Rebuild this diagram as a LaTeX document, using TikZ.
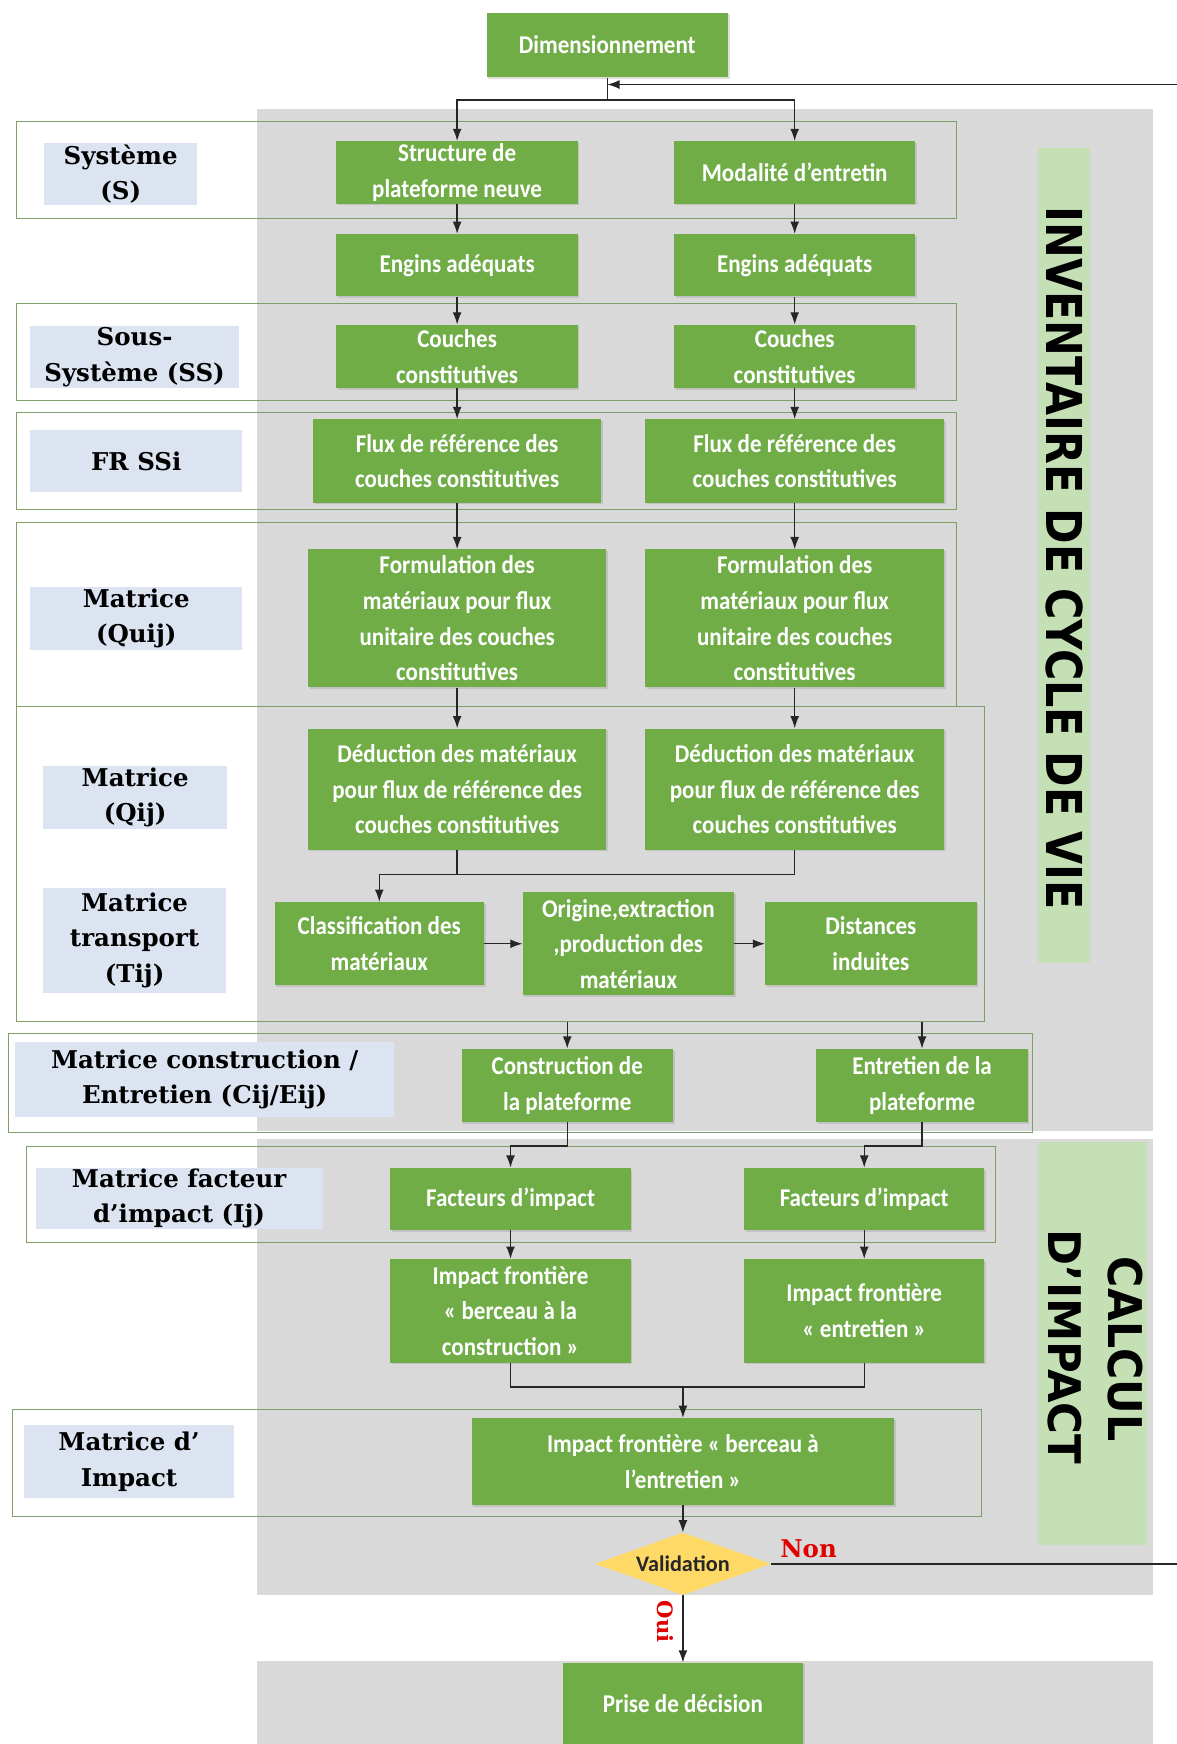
\documentclass[tikz,border=0pt]{standalone}
\usepackage{fontspec}
\usepackage{graphicx}
\usetikzlibrary{arrows.meta,shapes.geometric,shadows}
\newfontfamily\boxfont[FakeStretch=0.9]{Carlito}
\newfontfamily\valfont{Carlito}
\newfontfamily\labfont{DejaVu Serif}
\newfontfamily\titfont{DejaVu Sans}
\definecolor{gr}{HTML}{70AD47}
\definecolor{gy}{HTML}{D9D9D9}
\definecolor{lb}{HTML}{DCE3F1}
\definecolor{lg}{HTML}{C5E0B4}
\definecolor{fc}{HTML}{7F9F6A}
\definecolor{dy}{HTML}{FFD966}
\definecolor{rd}{HTML}{E00000}
\begin{document}
\begin{tikzpicture}[x=1pt,y=-1pt,
  gbox/.style={fill=gr, text=white, font=\boxfont\bfseries\fontsize{23}{32}\selectfont, align=center, inner sep=0pt,
    drop shadow={shadow xshift=1.5pt,shadow yshift=-1.5pt,opacity=.25}},
  lab/.style={fill=lb, font=\labfont\bfseries\fontsize{22}{32}\selectfont, align=center, inner sep=0pt},
  frm/.style={draw=fc, line width=0.9pt, inner sep=0pt},
  ln/.style={draw=black!85, line width=1.2pt},
  arr/.style={ln, -{Latex[length=11pt,width=8pt]}}]
\useasboundingbox (0,0) rectangle (1058,1568);
% gray backgrounds
\fill[gy] (231,98) rectangle (1037,1017);
\fill[gy] (231,1024) rectangle (1037,1434);
\fill[gy] (231,1493) rectangle (1037,1568);
% light green bars
\fill[lg] (933,133) rectangle (980,866);
\fill[lg] (933,1027) rectangle (1031,1389);
\node[rotate=-90, inner sep=0pt] (tinv) at (957.5,502) {\resizebox{632pt}{33pt}{\titfont\bfseries INVENTAIRE DE CYCLE DE VIE}};
\node[rotate=-90, inner sep=0pt] (tcal) at (1011.5,1213) {\resizebox{166pt}{31pt}{\titfont\bfseries CALCUL}};
\node[rotate=-90, inner sep=0pt] (timp) at (957,1211) {\resizebox{211pt}{30pt}{\titfont\bfseries D’IMPACT}};
% frames
\node[frm, minimum width=845pt, minimum height=87pt] (fS) at (437.5,152.5) {};
\node[frm, minimum width=845pt, minimum height=87pt] (fSS) at (437.5,316.5) {};
\node[frm, minimum width=845pt, minimum height=87pt] (fFR) at (437.5,414.5) {};
\node[frm, minimum width=845pt, minimum height=165pt] (fQ) at (437.5,552.5) {};
\node[frm, minimum width=870pt, minimum height=283pt] (fB) at (450,776.5) {};
\node[frm, minimum width=920pt, minimum height=89pt] (fC) at (468,973.5) {};
\node[frm, minimum width=871pt, minimum height=86pt] (fI) at (459.5,1074) {};
\node[frm, minimum width=871pt, minimum height=96pt] (fM) at (446.5,1315) {};
% labels
\node[lab, minimum width=137pt, minimum height=55pt] (lS) at (108.5,156.5) {Système\\(S)};
\node[lab, minimum width=188pt, minimum height=56pt] (lSS) at (121,321) {Sous-\\Système (SS)};
\node[lab, minimum width=191pt, minimum height=55pt] (lFR) at (122.5,414.5) {FR SSi};
\node[lab, minimum width=191pt, minimum height=56pt] (lQu) at (122.5,556) {Matrice\\(Quij)};
\node[lab, minimum width=165pt, minimum height=56pt] (lQ) at (121.5,717) {Matrice\\(Qij)};
\node[lab, minimum width=164pt, minimum height=95pt] (lT) at (121,845.5) {Matrice\\transport\\(Tij)};
\node[lab, minimum width=341pt, minimum height=67pt] (lC) at (184,970.5) {Matrice construction /\\Entretien (Cij/Eij)};
\node[lab, minimum width=258pt, minimum height=55pt] (lI) at (161,1077.5) {Matrice facteur\\d’impact (Ij)};
\node[lab, minimum width=189pt, minimum height=66pt] (lM) at (116,1314) {Matrice d’\\Impact};
% green boxes
\node[gbox, minimum width=217pt, minimum height=58pt] (dim) at (546,40.5) {Dimensionnement};
\node[gbox, minimum width=217pt, minimum height=56pt] (s1) at (411,155) {Structure de\\plateforme neuve};
\node[gbox, minimum width=217pt, minimum height=56pt] (s2) at (714.5,155) {Modalité d’entretin};
\node[gbox, minimum width=217pt, minimum height=56pt] (e1) at (411,238.5) {Engins adéquats};
\node[gbox, minimum width=217pt, minimum height=56pt] (e2) at (714.5,238.5) {Engins adéquats};
\node[gbox, minimum width=217pt, minimum height=57pt] (c1) at (411,320.5) {Couches\\constitutives};
\node[gbox, minimum width=217pt, minimum height=57pt] (c2) at (714.5,320.5) {Couches\\constitutives};
\node[gbox, minimum width=259pt, minimum height=75pt] (f1) at (411,414.5) {Flux de référence des\\couches constitutives};
\node[gbox, minimum width=269pt, minimum height=75pt] (f2) at (714.5,414.5) {Flux de référence des\\couches constitutives};
\node[gbox, minimum width=268pt, minimum height=124pt] (fo1) at (411,556) {Formulation des\\matériaux pour flux\\unitaire des couches\\constitutives};
\node[gbox, minimum width=269pt, minimum height=124pt] (fo2) at (714.5,556) {Formulation des\\matériaux pour flux\\unitaire des couches\\constitutives};
\node[gbox, minimum width=268pt, minimum height=109pt] (d1) at (411,709.5) {Déduction des matériaux\\pour flux de référence des\\couches constitutives};
\node[gbox, minimum width=269pt, minimum height=109pt] (d2) at (714.5,709.5) {Déduction des matériaux\\pour flux de référence des\\couches constitutives};
\node[gbox, minimum width=188pt, minimum height=75pt] (cl) at (341,848.5) {Classification des\\matériaux};
\node[gbox, minimum width=190pt, minimum height=93pt] (og) at (565,848.5) {Origine,extraction\\,production des\\matériaux};
\node[gbox, minimum width=190pt, minimum height=75pt] (di) at (783,848.5) {Distances\\induites};
\node[gbox, minimum width=190pt, minimum height=66pt] (co) at (510,976) {Construction de\\la plateforme};
\node[gbox, minimum width=190pt, minimum height=66pt] (en) at (829,976) {Entretien de la\\plateforme};
\node[gbox, minimum width=216pt, minimum height=56pt] (fa1) at (459,1078) {Facteurs d’impact};
\node[gbox, minimum width=216pt, minimum height=56pt] (fa2) at (777,1078) {Facteurs d’impact};
\node[gbox, minimum width=216pt, minimum height=93pt] (if1) at (459,1178.5) {Impact frontière\\« berceau à la\\construction »};
\node[gbox, minimum width=216pt, minimum height=93pt] (if2) at (777,1178.5) {Impact frontière\\« entretien »};
\node[gbox, minimum width=380pt, minimum height=78pt] (ib) at (614,1314) {Impact frontière « berceau à\\l’entretien »};
\node[diamond, aspect=2.82, fill=dy, inner sep=0pt, minimum width=158pt, minimum height=56pt,
  font=\valfont\bfseries\fontsize{20}{24}\selectfont, text=black!85] (val) at (614,1406) {Validation};
\node[gbox, minimum width=216pt, minimum height=73pt] (pd) at (614,1531.5) {Prise de décision};
% connectors
\coordinate (sp) at (546,90);
\coordinate (fbT) at (546,76);
\coordinate (fbR) at (1058,76);
\draw[ln] (dim.south) -- (sp);
\draw[arr] (sp) -| (s1.north);
\draw[arr] (sp) -| (s2.north);
\draw[arr] (fbR) -- (fbT);
\draw[arr] (s1.south) -- (e1.north);
\draw[arr] (s2.south) -- (e2.north);
\draw[arr] (e1.south) -- (c1.north);
\draw[arr] (e2.south) -- (c2.north);
\draw[arr] (c1.south) -- (f1.north);
\draw[arr] (c2.south) -- (f2.north);
\draw[arr] (f1.south) -- (fo1.north);
\draw[arr] (f2.south) -- (fo2.north);
\draw[arr] (fo1.south) -- (d1.north);
\draw[arr] (fo2.south) -- (d2.north);
\coordinate (mq) at (341,786);
\draw[ln] (d1.south) |- (mq);
\draw[ln] (d2.south) |- (mq);
\draw[arr] (mq) -- (cl.north);
\draw[arr] (cl.east) -- (og.west);
\draw[arr] (og.east) -- (di.west);
\draw[arr] (co.north |- fB.south) -- (co.north);
\draw[arr] (en.north |- fB.south) -- (en.north);
\draw[arr] (co.south) -- ++(0,21) -| (fa1.north);
\draw[arr] (en.south) -- ++(0,21) -| (fa2.north);
\draw[arr] (fa1.south) -- (if1.north);
\draw[arr] (fa2.south) -- (if2.north);
\coordinate (mi) at (614,1247);
\draw[ln] (if1.south) |- (mi);
\draw[ln] (if2.south) |- (mi);
\draw[arr] (mi) -- (ib.north);
\draw[arr] (ib.south) -- (val.north);
\draw[arr] (val.south) -- (pd.north);
\coordinate (nonR) at (1058,1406);
\draw[ln] (val.east) -- (nonR);
\node[text=rd, font=\labfont\bfseries\fontsize{22}{24}\selectfont, inner sep=0pt] (non) at (727,1392) {Non};
\node[rotate=-90, text=rd, font=\labfont\bfseries\fontsize{19}{20}\selectfont, inner sep=0pt] (oui) at (598,1458) {Oui};
\end{tikzpicture}
\end{document}
